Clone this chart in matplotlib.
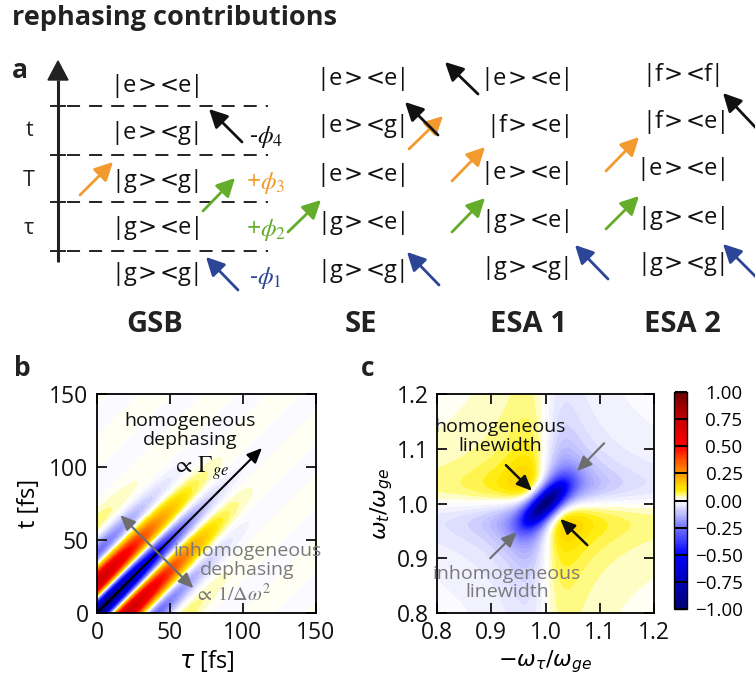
import numpy as np
import matplotlib
matplotlib.use("Agg")
import matplotlib.pyplot as plt
from matplotlib.colors import LinearSegmentedColormap
from matplotlib.patches import Polygon
from matplotlib.ticker import FuncFormatter

plt.rcParams['font.family'] = ['Open Sans', 'DejaVu Sans']
plt.rcParams['mathtext.fontset'] = 'dejavusans'
plt.rcParams['lines.scale_dashes'] = False

# ---------------- data ----------------
pathway_names = ["GSB", "SE", "ESA 1", "ESA 2"]
gsb_states = ["|e><e|", "|e><g|", "|g><g|", "|g><e|", "|g><g|"]
se_states = ["|e><e|", "|e><g|", "|e><e|", "|g><e|", "|g><g|"]
esa1_states = ["|e><e|", "|f><e|", "|e><e|", "|g><e|", "|g><g|"]
esa2_states = ["|f><f|", "|f><e|", "|e><e|", "|g><e|", "|g><g|"]
interval_labels = ["t", "T", "τ"]
phase_labels = ["-$\\phi_4$", "+$\\phi_3$", "+$\\phi_2$", "-$\\phi_1$"]

tau_range = [0, 150]
t_range = [0, 150]
carrier_period_fs = 44.0
homog_decay_fs = 0.0141
inhomog_width_fs = 0.0352
b_ticks = [0, 50, 100, 150]

w_range = [0.8, 1.2]
homog_width = 0.018
inhomog_width = 0.022
c_ticks = [0.8, 0.9, 1.0, 1.1, 1.2]
cbar_ticks = [-1.0, -0.75, -0.5, -0.25, 0.0, 0.25, 0.5, 0.75, 1.0]

cmap_vals = [-1.0, -0.75, -0.5, -0.25, -0.08, -0.02, 0.0, 0.02, 0.05, 0.1, 0.25, 0.5, 0.75, 1.0]
cmap_cols = [(0.0, 0.0, 0.45), (0.0, 0.0, 0.72), (0.0, 0.0, 1.0), (0.45, 0.45, 1.0),
             (0.84, 0.84, 1.0), (0.97, 0.97, 1.0), (1, 1, 1), (1, 1, 0.9),
             (1, 0.98, 0.5), (1, 0.92, 0.0),
             (1, 0.6, 0.0), (1, 0.0, 0.0), (0.78, 0.0, 0.0), (0.42, 0.0, 0.0)]

cmap = LinearSegmentedColormap.from_list(
    "rephase", [((v + 1) / 2, c) for v, c in zip(cmap_vals, cmap_cols)], N=512)

ORANGE = "#f39a2e"
GREEN = "#63ad2a"
BLUE = "#2d4596"
BLACK = "#111111"
GRAY = "#6e6e6e"
GRAYTXT = "#7a7a7a"
TXT = "#222222"

fig = plt.figure(figsize=(7.55, 6.84), dpi=100)

# ---------------- panel a (pixel coordinates) ----------------
axa = fig.add_axes([0, 0, 1, 1])
axa.set_xlim(0, 755)
axa.set_ylim(684, 0)
axa.axis('off')

axa.text(12, 25, "rephasing contributions", fontsize=19.5, fontweight='bold',
         color=TXT, ha='left', va='baseline')
axa.text(12, 78, "a", fontsize=19, fontweight='bold', color=TXT, va='baseline')
axa.text(14, 376, "b", fontsize=19, fontweight='bold', color=TXT, va='baseline')
axa.text(361, 376, "c", fontsize=19, fontweight='bold', color=TXT, va='baseline')

axa.plot([58, 58], [262, 80], color=TXT, lw=2.2, solid_capstyle='butt')
axa.add_patch(Polygon([[48, 80], [68, 80], [58, 61]], closed=True, color=TXT))
level_y = [106, 155, 202, 251]
for y in level_y:
    axa.plot([51, 65], [y, y], color=TXT, lw=1.4)
    axa.plot([67, 268], [y, y], color=TXT, lw=1.4, linestyle=(0, (9.4, 6.5)))
for lab, y in zip(interval_labels, [130, 180, 228]):
    axa.text(29, y, lab, fontsize=15.5, ha='center', va='center', color=TXT)

columns = [
    (157, [85, 132, 180, 227, 273], gsb_states),
    (363, [78, 125, 174, 222, 270], se_states),
    (527, [78, 125, 172, 220, 267], esa1_states),
    (683, [74, 121, 168, 217, 263], esa2_states),
]
for x, ys, states in columns:
    for s, y in zip(states, ys):
        ket, rest = s.split('>')
        bra = rest.split('<')[1]
        base = y + 7
        axa.text(x - 20, base, ket, fontsize=17, ha='right', va='baseline', color=BLACK)
        axa.text(x + 21, base, bra, fontsize=17, ha='left', va='baseline', color=BLACK)
        axa.text(x - 10, base, ">", fontsize=16.5, ha='center', va='baseline',
                 color=BLACK, family='DejaVu Sans')
        axa.text(x + 12, base, "<", fontsize=16.5, ha='center', va='baseline',
                 color=BLACK, family='DejaVu Sans')

for name, x in zip(pathway_names, [155, 361, 528, 682]):
    axa.text(x, 325, name, fontsize=21, fontweight='bold', ha='center',
             va='center', color=TXT)

arrows = [
    ((80, 195), (113, 162), ORANGE), ((203, 211), (235, 178), GREEN),
    ((242, 142), (209, 109), BLACK), ((238, 290), (206, 257), BLUE),
    ((288, 232), (321, 200), GREEN), ((409, 149), (443, 116), ORANGE),
    ((438, 135), (405, 102), BLACK), ((439, 285), (407, 252), BLUE),
    ((478, 94), (445, 62), BLACK), ((452, 181), (485, 147), ORANGE),
    ((452, 232), (485, 198), GREEN), ((608, 279), (575, 245), BLUE),
    ((606, 171), (639, 137), ORANGE), ((606, 229), (639, 196), GREEN),
    ((757, 129), (723, 93), BLACK), ((759, 280), (723, 244), BLUE),
]
for tail, head, col in arrows:
    axa.annotate("", xy=head, xytext=tail,
                 arrowprops=dict(arrowstyle="-|>,head_length=0.55,head_width=0.28",
                                 lw=2.0, color=col, shrinkA=0, shrinkB=0,
                                 mutation_scale=20))

for lab, col, (x, y) in zip(phase_labels, [BLACK, ORANGE, GREEN, BLUE],
                            [(249, 137), (246, 183), (246, 230), (249, 278)]):
    axa.text(x, y, lab, fontsize=18, color=col, ha='left', va='center',
             math_fontfamily='stix')

# ---------------- panel b ----------------
tau = np.linspace(tau_range[0], tau_range[1], 301)
tt = np.linspace(t_range[0], t_range[1], 301)
TAU, TT = np.meshgrid(tau, tt)
w0 = 2 * np.pi / carrier_period_fs
Sb = (-np.cos(w0 * (TT - TAU))
      * np.exp(-0.5 * homog_decay_fs ** 2 * (TT + TAU) ** 2)
      * np.exp(-0.5 * inhomog_width_fs ** 2 * (TT - TAU) ** 2))
Sb = Sb / np.abs(Sb).max()

levels = np.linspace(-1, 1, 101)
axb = fig.add_axes([97 / 755, 1 - 613 / 684, 219 / 755, 219 / 684])
axb.contourf(TAU, TT, Sb, levels=levels, cmap=cmap, vmin=-1, vmax=1)
axb.set_xlim(*tau_range)
axb.set_ylim(*t_range)
axb.set_xticks(b_ticks)
axb.set_yticks(b_ticks)
axb.set_xlabel(r"$\tau$ [fs]", fontsize=17, labelpad=2)
axb.set_ylabel("t [fs]", fontsize=17, labelpad=6)

axb.annotate("", xy=(113, 113), xytext=(0, 0),
             arrowprops=dict(arrowstyle="-|>,head_length=0.5,head_width=0.22",
                             lw=1.5, color='black', shrinkA=0, shrinkB=0,
                             mutation_scale=18))
axb.annotate("", xy=(16, 67), xytext=(66, 17),
             arrowprops=dict(arrowstyle="<|-|>,head_length=0.5,head_width=0.22",
                             lw=1.5, color=GRAY, shrinkA=0, shrinkB=0,
                             mutation_scale=18))
axb.text(64, 125, "homogeneous\ndephasing", fontsize=14, ha='center', va='center',
         color=BLACK, linespacing=1.05)
axb.text(71, 99, r"$\propto\,\Gamma_{ge}$", fontsize=17, ha='center', va='center',
         color=BLACK, math_fontfamily='stix')
axb.text(103, 36, "inhomogeneous\ndephasing", fontsize=14, ha='center', va='center',
         color=GRAYTXT, linespacing=1.05)
axb.text(93, 12, r"$\propto\,1/\Delta\omega^2$", fontsize=14.5, ha='center',
         va='center', color=GRAYTXT, math_fontfamily='stix')

# ---------------- panel c ----------------
w = np.linspace(w_range[0], w_range[1], 301)
WX, WY = np.meshgrid(w, w)
wk = np.linspace(1 - 4 * inhomog_width, 1 + 4 * inhomog_width, 121)
gk = np.exp(-0.5 * ((wk - 1) / inhomog_width) ** 2)
G2 = homog_width ** 2
Sc = np.zeros_like(WX)
for wkk, g in zip(wk, gk):
    a = WX - wkk
    b = WY - wkk
    Sc += g * -(G2 + a * b) / ((G2 + a ** 2) * (G2 + b ** 2))
Sc = Sc / np.abs(Sc.min())

axc = fig.add_axes([437 / 755, 1 - 613 / 684, 217 / 755, 219 / 684])
cfc = axc.contourf(WX, WY, Sc, levels=levels, cmap=cmap, vmin=-1, vmax=1)
axc.set_xlim(*w_range)
axc.set_ylim(*w_range)
axc.set_xticks(c_ticks)
axc.set_yticks(c_ticks)
axc.xaxis.set_major_formatter(FuncFormatter(lambda v, p: f"{v:.1f}"))
axc.yaxis.set_major_formatter(FuncFormatter(lambda v, p: f"{v:.1f}"))
axc.set_xlabel(r"$-\omega_\tau/\omega_{ge}$", fontsize=16, labelpad=2)
axc.set_ylabel(r"$\omega_t/\omega_{ge}$", fontsize=16, labelpad=1)

axc.text(0.916, 1.123, "homogeneous\nlinewidth", fontsize=14, ha='center',
         va='center', color=BLACK, linespacing=1.05)
axc.text(0.929, 0.855, "inhomogeneous\nlinewidth", fontsize=14, ha='center',
         va='center', color=GRAYTXT, linespacing=1.05)
for tail, head, col in [((0.927, 1.070), (0.975, 1.023), BLACK),
                        ((1.077, 0.924), (1.027, 0.972), BLACK),
                        ((1.108, 1.110), (1.058, 1.059), GRAY),
                        ((0.898, 0.900), (0.947, 0.948), GRAY)]:
    axc.annotate("", xy=head, xytext=tail,
                 arrowprops=dict(arrowstyle="-|>,head_length=0.5,head_width=0.22",
                                 lw=1.8 if col == BLACK else 1.5, color=col,
                                 shrinkA=0, shrinkB=0, mutation_scale=18))

for ax in (axb, axc):
    ax.tick_params(direction='in', length=7, width=1.3, top=True, right=True,
                   labelsize=16.5, pad=6, colors='#111111')
    for sp in ax.spines.values():
        sp.set_linewidth(1.3)

cax = fig.add_axes([674 / 755, 1 - 609 / 684, 13 / 755, 217 / 684])
cb = fig.colorbar(cfc, cax=cax, ticks=cbar_ticks)
cb.outline.set_linewidth(1.0)
cb.ax.yaxis.set_major_formatter(FuncFormatter(lambda v, p: f"{v:.2f}".replace('-', '\u2212')))
cb.ax.tick_params(direction='in', length=9, width=1.5, labelsize=13.5, pad=40,
                  colors='black')
for tk in cb.ax.yaxis.get_major_ticks():
    tk.label2.set_horizontalalignment('right')

fig.savefig("out.png", dpi=100)
